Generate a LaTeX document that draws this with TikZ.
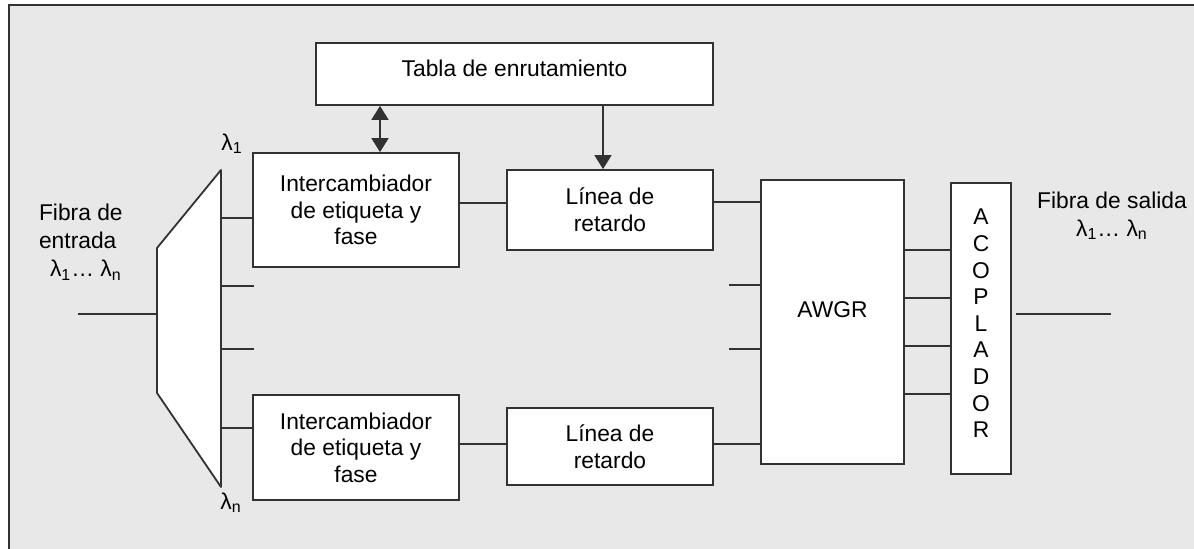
\documentclass[tikz,border=0pt]{standalone}
\usepackage{fontspec}
\setmainfont{Liberation Sans}
\usetikzlibrary{arrows.meta}
\definecolor{fondo}{RGB}{232,232,232}
\definecolor{trazo}{RGB}{50,50,50}
\newcommand{\lam}[1]{λ\textsubscript{#1}}

\begin{document}
\begin{tikzpicture}[x=0.5pt,y=-0.5pt,
    font=\fontsize{11.4}{13.3}\selectfont,
    >={Triangle[length=7pt,width=8.5pt]},
    linea/.style={draw=trazo,line width=0.9pt},
    bloque/.style={linea,fill=white,align=center,inner sep=0pt}]
\useasboundingbox (0,0) rectangle (1194,549);
\clip (0,0) rectangle (1194,549);
\fill[white] (0,0) rectangle (1194,549);
\draw[line width=1.2pt,trazo,fill=fondo] (9,5) rectangle (1230,580);

\node[bloque,minimum width=198.5pt,minimum height=31pt,text depth=6pt] (tabla) at (514.5,74) {Tabla de enrutamiento};
\node[bloque,minimum width=103pt,minimum height=57pt] (inter1) at (356,210) {Intercambiador\\de etiqueta y\\fase};
\node[bloque,minimum width=103pt,minimum height=40pt] (linea1) at (610,210) {Línea de\\retardo};
\node[bloque,minimum width=103pt,minimum height=52.5pt] (inter2) at (356,447.5) {Intercambiador\\de etiqueta y\\fase};
\node[bloque,minimum width=103pt,minimum height=38.5pt] (linea2) at (610,446.5) {Línea de\\retardo};
\node[bloque,minimum width=71.5pt,minimum height=142pt,text depth=12pt] (awgr) at (832.5,322) {AWGR};
\node[bloque,minimum width=30pt,minimum height=145.5pt,text depth=5pt] (acop) at (981,328.5) {A\\C\\O\\P\\L\\A\\D\\O\\R};

\draw[linea,fill=white,line join=round] (157,248) -- (221,170) -- (221,487) -- (157,393) -- cycle;
\coordinate (dmx) at (157,314);
\coordinate (entrada) at (78,314);
\coordinate (salida) at (1111,314);
\foreach \y/\n in {218/1,286/2,349/3,428/4}
    \coordinate (d\n) at (221,\y);
\coordinate (s2) at (254,286);
\coordinate (s3) at (254,349);
\coordinate (a2) at (729,285);
\coordinate (a3) at (729,349);

\draw[linea] (entrada) -- (dmx);
\draw[linea] (d1) -- (d1 -| inter1.west);
\draw[linea] (d2) -- (s2);
\draw[linea] (d3) -- (s3);
\draw[linea] (d4) -- (d4 -| inter2.west);

\draw[linea] ([yshift=3.5pt]inter1.east) coordinate (r1) -- (r1 -| linea1.west);
\draw[linea] ([yshift=4pt]linea1.east) coordinate (r2) -- (r2 -| awgr.west);
\draw[linea] ([yshift=1.75pt]inter2.east) coordinate (r3) -- (r3 -| linea2.west);
\draw[linea] ([yshift=1.25pt]linea2.east) coordinate (r4) -- (r4 -| awgr.west);
\draw[linea] (a2) -- (a2 -| awgr.west);
\draw[linea] (a3) -- (a3 -| awgr.west);

\foreach \y in {250,298,346,394}
    \path (0,\y) coordinate (h) [linea] (awgr.east |- h) edge (acop.west |- h);
\draw[linea] ([xshift=2pt]acop.east |- salida) -- (salida);

\path (380,0) coordinate (ca) (603,0) coordinate (cb);
\draw[linea,<->] (tabla.south -| ca) -- (inter1.north -| ca);
\draw[linea,->] (tabla.south -| cb) -- (linea1.north -| cb);

\node[anchor=west,align=left,font=\fontsize{11.4}{14.2}\selectfont] (fentrada) at (32,242) {Fibra de\\entrada\\\hspace*{5.5pt}\lam{1}… \lam{n}};
\node[align=center,font=\fontsize{11.4}{14}\selectfont] (fsalida) at (1112,216) {Fibra de salida\\\lam{1}… \lam{n}};
\node (l1) at (232,144) {\lam{1}};
\node (ln) at (231,503) {\lam{n}};
\end{tikzpicture}
\end{document}
